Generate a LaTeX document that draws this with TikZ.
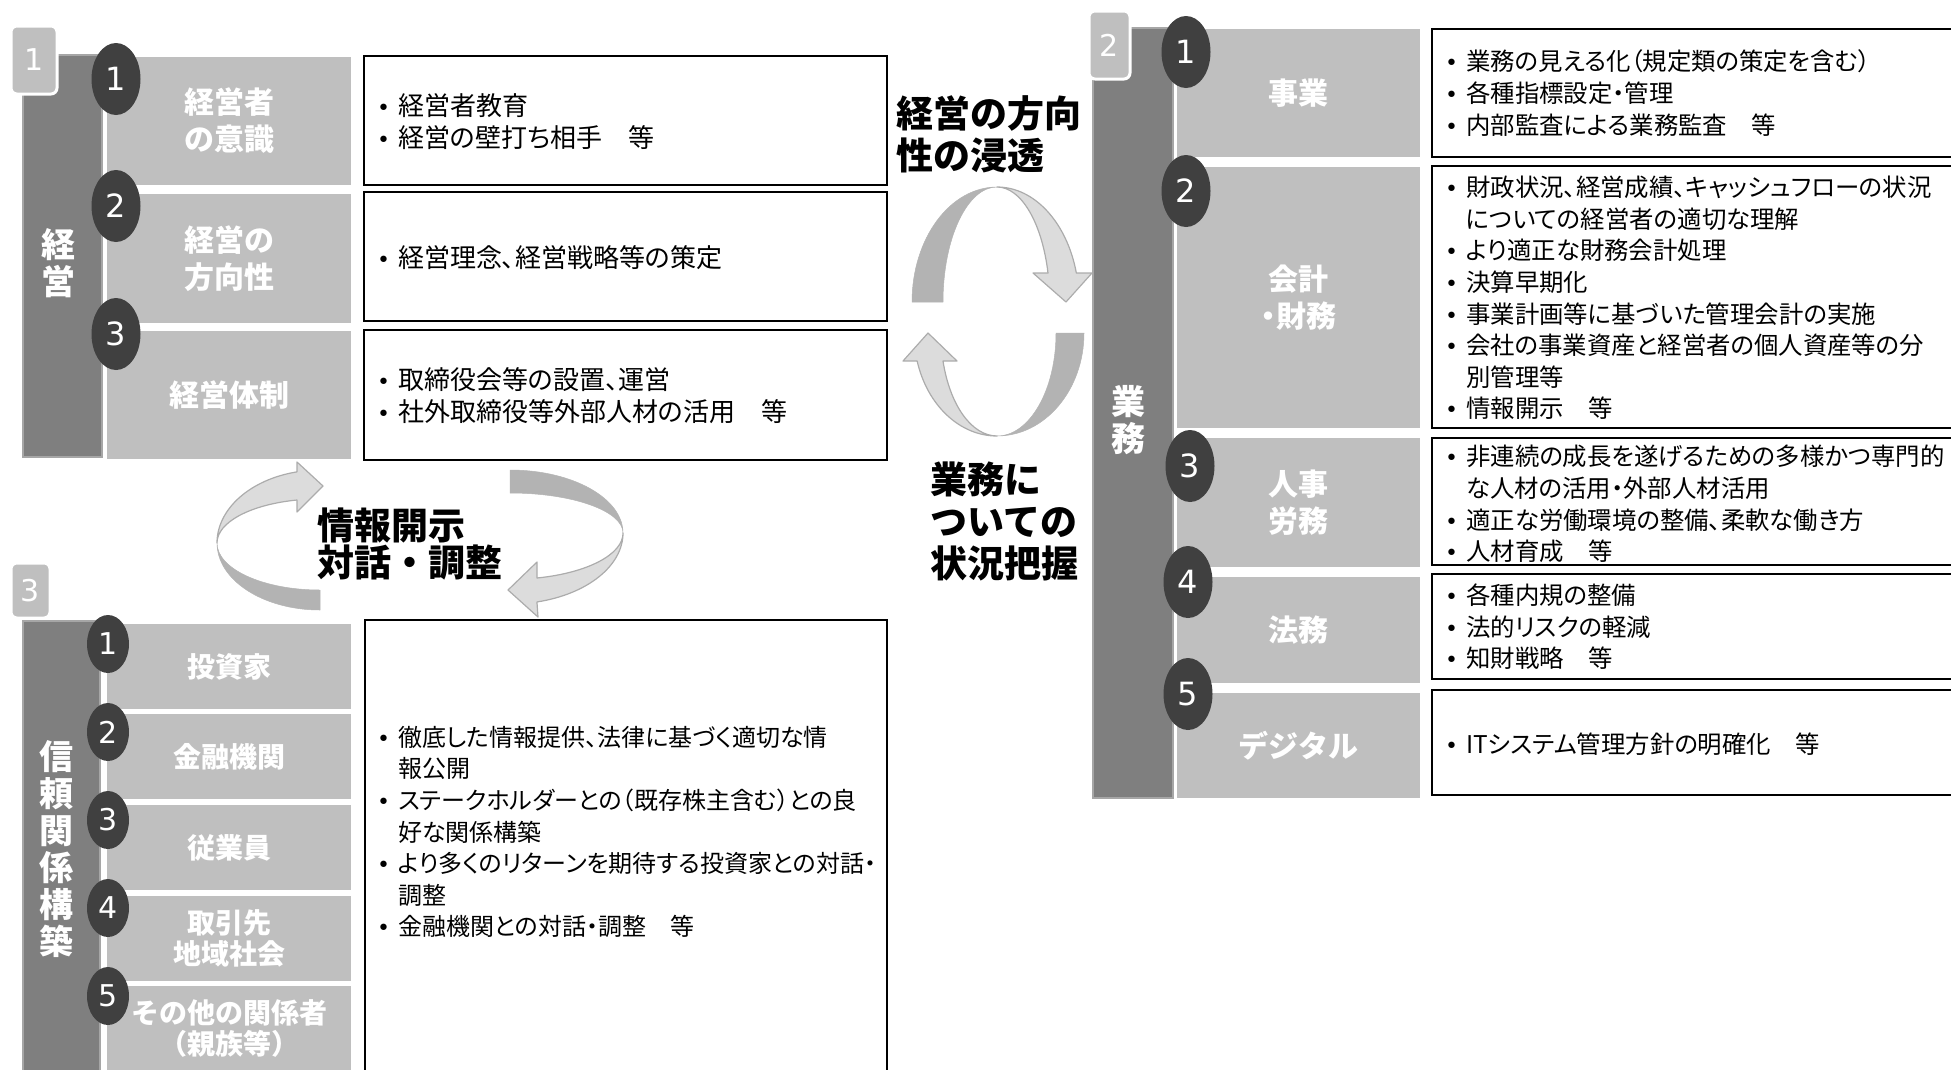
\documentclass[tikz,border=0pt]{standalone}
\usepackage{fontspec}
\setmainfont{Noto Sans CJK JP}[RawFeature=+palt]
\newfontfamily\jpfont{Noto Sans CJK JP}
\newfontfamily\digfont{DejaVu Sans}
\usetikzlibrary{shapes.geometric}
\definecolor{cbar}{HTML}{7F7F7F}
\definecolor{cbarline}{HTML}{A6A6A6}
\definecolor{clight}{HTML}{BFBFBF}
\definecolor{ccirc}{HTML}{404040}
\definecolor{carrL}{HTML}{DCDCDC}
\definecolor{carrD}{HTML}{B3B3B3}
\definecolor{carrline}{HTML}{ACACAC}
\newcommand\bul{\leavevmode\llap{{\digfont\fontsize{22pt}{22pt}\selectfont •}\hspace{8pt}}}
\begin{document}
\begin{tikzpicture}[x=1pt,y=-1pt,
  sidebar/.style={draw=cbarline, line width=1.5pt, fill=cbar, inner sep=0pt, outer sep=0pt},
  bartxt/.style={text=white, align=center, inner sep=0pt, font=\jpfont\bfseries\fontsize{34pt}{37pt}\selectfont},
  lbox/.style={fill=clight, inner sep=0pt, outer sep=0pt, text=white, align=center, font=\jpfont\bfseries\fontsize{30pt}{37pt}\selectfont},
  lboxs/.style={lbox, font=\jpfont\bfseries\fontsize{28pt}{31pt}\selectfont},
  wbox/.style={draw=black, line width=2.5pt, fill=white, inner sep=0pt, outer sep=0pt},
  tabbox/.style={fill=clight, draw=white, line width=3pt, rounded corners=6pt, inner sep=0pt, text=white, font=\digfont\fontsize{30pt}{30pt}\selectfont},
  numc/.style={ellipse, fill=ccirc, inner sep=0pt, text=white, font=\digfont\fontsize{32pt}{32pt}\selectfont},
  bodytxt/.style={anchor=west, align=left, inner sep=0pt, font=\fontsize{24pt}{31.6pt}\selectfont},
  bodytxtA/.style={bodytxt, font=\fontsize{26pt}{32pt}\selectfont},
  bodytxtB/.style={bodytxt, font=\fontsize{24.4pt}{31.6pt}\selectfont},
  headtxt/.style={anchor=west, align=left, inner sep=0pt, font=\jpfont\bfseries\fontsize{37pt}{42pt}\selectfont},
  arrlightpart/.style={fill=carrL, draw=carrline, line width=1.2pt, line join=round},
  arrdarkpart/.style={fill=carrD, draw=carrD, line width=0.5pt, line join=round}
]
\useasboundingbox (0,0) rectangle (1951,1069);

% ---------------- Panel 1 ----------------
\node[sidebar, minimum width=79pt, minimum height=402pt] (bar1) at (62.5,256) {};
\node[tabbox, minimum width=46pt, minimum height=68pt] (tab1) at (34,60) {1};
\node[bartxt] (bt1) at (58,263) {経\\営};
\node[lbox, minimum width=244pt, minimum height=128pt] (l11) at (229,121) {経営者\\の意識};
\node[lbox, minimum width=244pt, minimum height=129pt] (l12) at (229,258.5) {経営の\\方向性};
\node[lbox, minimum width=244pt, minimum height=128pt] (l13) at (229,395) {経営体制};
\node[numc, minimum width=49pt, minimum height=72pt] (c11) at (116,79) {1};
\node[numc, minimum width=49pt, minimum height=72pt] (c12) at (116,206) {2};
\node[numc, minimum width=49pt, minimum height=72pt] (c13) at (116,334) {3};
\node[wbox, minimum width=523pt, minimum height=129pt] (w11) at (625.5,120.5) {};
\node[wbox, minimum width=523pt, minimum height=129pt] (w12) at (625.5,256.5) {};
\node[wbox, minimum width=523pt, minimum height=130pt] (w13) at (625.5,395) {};
\node[bodytxtA] (t11) at (398,122) {\bul 経営者教育\\\bul 経営の壁打ち相手　等};
\node[bodytxtA] (t12) at (398,258) {\bul 経営理念、経営戦略等の策定};
\node[bodytxtA] (t13) at (398,396) {\bul 取締役会等の設置、運営\\\bul 社外取締役等外部人材の活用　等};

% ---------------- Panel 3 ----------------
\node[sidebar, minimum width=77pt, minimum height=459pt] (bar3) at (61.5,850.5) {};
\node[tabbox, minimum width=39pt, minimum height=55pt] (tab3) at (30.5,590.5) {3};
\node[bartxt] (bt3) at (56,849) {信\\頼\\関\\係\\構\\築};
\node[lboxs, minimum width=244pt, minimum height=85pt] (l31) at (229,666.5) {投資家};
\node[lboxs, minimum width=244pt, minimum height=85pt] (l32) at (229,756.5) {金融機関};
\node[lboxs, minimum width=244pt, minimum height=85pt] (l33) at (229,847.5) {従業員};
\node[lboxs, minimum width=244pt, minimum height=85pt] (l34) at (229,938.5) {取引先\\地域社会};
\node[lboxs, minimum width=244pt, minimum height=84pt] (l35) at (229,1028) {その他の関係者\\（親族等）};
\node[numc, minimum width=42pt, minimum height=58pt, font=\digfont\fontsize{30pt}{30pt}\selectfont] (c31) at (108,644) {1};
\node[numc, minimum width=42pt, minimum height=58pt, font=\digfont\fontsize{30pt}{30pt}\selectfont] (c32) at (108,732) {2};
\node[numc, minimum width=42pt, minimum height=58pt, font=\digfont\fontsize{30pt}{30pt}\selectfont] (c33) at (108,820) {3};
\node[numc, minimum width=42pt, minimum height=58pt, font=\digfont\fontsize{30pt}{30pt}\selectfont] (c34) at (108,908) {4};
\node[numc, minimum width=42pt, minimum height=58pt, font=\digfont\fontsize{30pt}{30pt}\selectfont] (c35) at (108,996) {5};
\node[wbox, minimum width=522pt, minimum height=465pt] (w3) at (626,852.5) {};
\node[bodytxt] (t3) at (398,832) {\bul 徹底した情報提供、法律に基づく適切な情\\報公開\\\bul ステークホルダーとの（既存株主含む）との良\\好な関係構築\\\bul より多くのリターンを期待する投資家との対話・\\調整\\\bul 金融機関との対話・調整　等};

% ---------------- Panel 2 ----------------
\node[sidebar, minimum width=80pt, minimum height=770pt] (bar2) at (1133,413) {};
\node[tabbox, minimum width=41pt, minimum height=68pt] (tab2) at (1109.5,45) {2};
\node[bartxt] (bt2) at (1128,420) {業\\務};
\node[lbox, minimum width=243pt, minimum height=128pt] (l21) at (1298.5,93) {事業};
\node[lbox, minimum width=243pt, minimum height=261pt, font=\bfseries\fontsize{30pt}{37pt}\selectfont] (l22) at (1298.5,297.5) {会計\\・財務};
\node[lbox, minimum width=243pt, minimum height=129pt] (l23) at (1298.5,502.5) {人事\\労務};
\node[lbox, minimum width=243pt, minimum height=106pt] (l24) at (1298.5,630) {法務};
\node[lbox, minimum width=243pt, minimum height=105pt] (l25) at (1298.5,745.5) {デジタル};
\node[numc, minimum width=49pt, minimum height=72pt] (c21) at (1186,52) {1};
\node[numc, minimum width=49pt, minimum height=72pt] (c22) at (1186,191) {2};
\node[numc, minimum width=49pt, minimum height=72pt] (c23) at (1190,466) {3};
\node[numc, minimum width=49pt, minimum height=72pt] (c24) at (1188,582) {4};
\node[numc, minimum width=49pt, minimum height=72pt] (c25) at (1188,694) {5};
\node[wbox, minimum width=538pt, minimum height=128pt] (w21) at (1701,93) {};
\node[wbox, minimum width=538pt, minimum height=262pt] (w22) at (1701,297) {};
\node[wbox, minimum width=538pt, minimum height=127pt] (w23) at (1701,501.5) {};
\node[wbox, minimum width=538pt, minimum height=105pt] (w24) at (1701,626.5) {};
\node[wbox, minimum width=538pt, minimum height=105pt] (w25) at (1701,742.5) {};
\node[bodytxtB] (t21) at (1466,93) {\bul 業務の見える化（規定類の策定を含む）\\\bul 各種指標設定・管理\\\bul 内部監査による業務監査　等};
\node[bodytxtB] (t22) at (1466,298) {\bul 財政状況、経営成績、キャッシュフローの状況\\についての経営者の適切な理解\\\bul より適正な財務会計処理\\\bul 決算早期化\\\bul 事業計画等に基づいた管理会計の実施\\\bul 会社の事業資産と経営者の個人資産等の分\\別管理等\\\bul 情報開示　等};
\node[bodytxtB] (t23) at (1466,504) {\bul 非連続の成長を遂げるための多様かつ専門的\\な人材の活用・外部人材活用\\\bul 適正な労働環境の整備、柔軟な働き方\\\bul 人材育成　等};
\node[bodytxtB] (t24) at (1466,627) {\bul 各種内規の整備\\\bul 法的リスクの軽減\\\bul 知財戦略　等};
\node[bodytxtB] (t25) at (1466,744) {\bul ITシステム管理方針の明確化　等};

% ---------------- Headings ----------------
\node[headtxt] (h1) at (896,134) {経営の方向\\性の浸透};
\node[headtxt] (h2) at (930,521) {業務に\\ついての\\状況把握};
\node[headtxt, font=\jpfont\bfseries\fontsize{37pt}{37pt}\selectfont] (h3) at (317,544) {情報開示\\対話・調整};

% ---------------- Middle cycle arrows ----------------
\path[arrdarkpart] (912,302) arc[start angle=180,end angle=270,x radius=85,y radius=115]
  arc[start angle=270,end angle=180,x radius=54,y radius=115] -- cycle;
\path[arrlightpart] (997,187) arc[start angle=270,end angle=345.4,x radius=82,y radius=115]
  -- (1092,273) -- (1066,302) -- (1033,273) -- (1048,273)
  arc[start angle=345.4,end angle=270,x radius=52.7,y radius=115] -- cycle;
\path[arrdarkpart] (1084,333) arc[start angle=0,end angle=90,x radius=87,y radius=103]
  arc[start angle=90,end angle=0,x radius=59,y radius=103] -- cycle;
\path[arrlightpart] (997,436) arc[start angle=90,end angle=164.2,x radius=83,y radius=103]
  -- (903,361) -- (928,333) -- (957,361) -- (943,361)
  arc[start angle=164.2,end angle=90,x radius=56,y radius=103] -- cycle;

% ---------------- Left cycle arrows ----------------
\path[arrdarkpart] (320,610) arc[start angle=90,end angle=180,x radius=103,y radius=67]
  arc[start angle=180,end angle=90,x radius=103,y radius=47] -- cycle;
\path[arrlightpart] (217,543) arc[start angle=180,end angle=257.1,x radius=103,y radius=73]
  -- (297,462) -- (323,486) -- (297,512) -- (297,500)
  arc[start angle=257.1,end angle=180,x radius=103,y radius=44] -- cycle;
\path[arrdarkpart] (510,470) arc[start angle=270,end angle=360,x radius=113,y radius=63]
  arc[start angle=360,end angle=270,x radius=113,y radius=40] -- cycle;
\path[arrlightpart] (623,533) arc[start angle=0,end angle=76.2,x radius=113,y radius=71]
  -- (538,617) -- (508,590) -- (537,562) -- (537,578)
  arc[start angle=76.2,end angle=0,x radius=113,y radius=46.3] -- cycle;
\end{tikzpicture}
\end{document}
